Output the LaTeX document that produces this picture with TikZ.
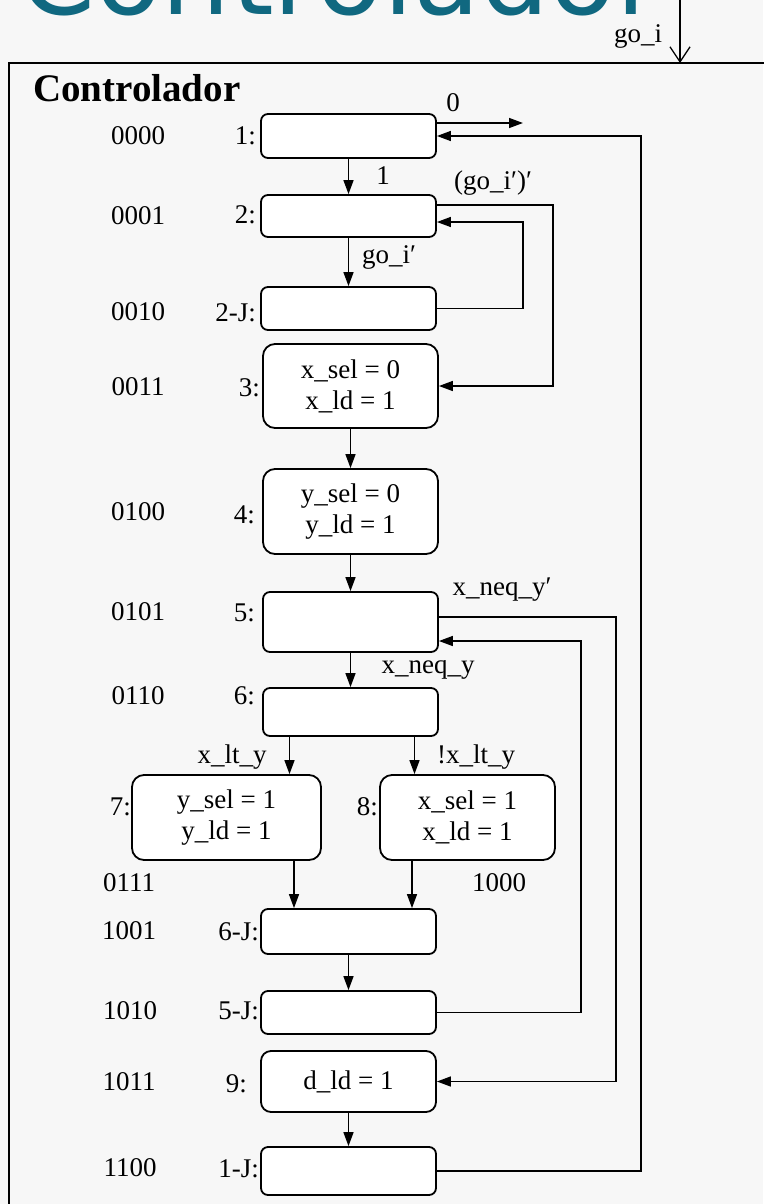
\documentclass[tikz,border=0pt]{standalone}
\usepackage{fontspec}
\setmainfont{Liberation Serif}
\newfontfamily\titlefont{DejaVu Sans}
\usetikzlibrary{arrows.meta, calc}
\definecolor{slideteal}{RGB}{16, 104, 128}
\definecolor{slidebg}{RGB}{247, 247, 247}
\newcommand{\statefont}{\fontsize{27}{31}\selectfont}

\begin{document}
\begin{tikzpicture}[x=1pt, y=-1pt,
    statebox/.style={draw, line width=1.8pt, fill=white, rounded corners=7pt,
        minimum width=175pt, inner sep=0pt, align=center, font=\statefont},
    tallbox/.style={statebox, rounded corners=12pt, minimum height=85pt},
    codelabel/.style={font=\statefont, inner sep=0pt},
    statelabel/.style={font=\statefont, inner sep=0pt, anchor=east},
    wire/.style={line width=1.5pt},
    flow/.style={wire, -{Triangle[length=14pt, width=10pt]}}]

    \fill[slidebg] (0,0) rectangle (763,1204);
    \useasboundingbox (0,0) rectangle (763,1204);

    \node[font=\titlefont\fontsize{109}{116}\selectfont, text=slideteal,
          anchor=base west, inner sep=0pt] (title) at (19,15) {Controlador};

    \draw[line width=2pt] (9,63) rectangle (775,1215);
    \node[font=\fontsize{39}{44}\selectfont\bfseries, anchor=west, inner sep=0pt]
        (heading) at (33,88) {Controlador};

    \coordinate (goin) at (680,-5);
    \coordinate (gotop) at (680,63);
    \draw[line width=1.3pt, -{Straight Barb[length=15pt, width=20pt]}] (goin) -- (gotop);
    \node[codelabel, anchor=base] (golabel) at (638,43) {go\_i};

    % states
    \node[statebox, minimum height=44pt] (s1) at (348.5,136) {};
    \node[statebox, minimum height=42pt] (s2) at (348.5,216) {};
    \node[statebox, minimum height=43pt] (s2j) at (348.5,308.5) {};
    \node[tallbox, minimum height=84pt] (s3) at (350.5,386) {x\_sel = 0\\x\_ld = 1};
    \node[tallbox] (s4) at (350.5,511.5) {y\_sel = 0\\y\_ld = 1};
    \node[statebox, minimum height=60pt] (s5) at (350.5,622) {};
    \node[statebox, minimum height=48pt] (s6) at (350.5,712) {};
    \node[tallbox, minimum width=189pt] (s7) at (226.5,817.5) {y\_sel = 1\\y\_ld = 1};
    \node[tallbox] (s8) at (467.5,817.5) {x\_sel = 1\\x\_ld = 1};
    \node[statebox, minimum height=45pt] (s6j) at (348.5,931.5) {};
    \node[statebox, minimum height=43pt] (s5j) at (348.5,1012.5) {};
    \node[statebox, minimum height=61pt, rounded corners=10pt] (s9) at (348.5,1081.5) {d\_ld = 1};
    \node[statebox, minimum height=48pt] (s1j) at (348.5,1171) {};

    \node[statelabel] (n1) at (256,136) {1:};
    \node[statelabel] (n2) at (256,215) {2:};
    \node[statelabel] (n2j) at (256,313) {2-J:};
    \node[statelabel] (n3) at (260,388) {3:};
    \node[statelabel] (n4) at (255,515) {4:};
    \node[statelabel] (n5) at (255,613) {5:};
    \node[statelabel] (n6) at (255,696) {6:};
    \node[statelabel] (n7) at (131,807) {7:};
    \node[statelabel] (n8) at (378,807) {8:};
    \node[statelabel] (n6j) at (259,932) {6-J:};
    \node[statelabel] (n5j) at (259,1011) {5-J:};
    \node[statelabel] (n9) at (247,1084) {9:};
    \node[statelabel] (n1j) at (259,1169) {1-J:};

    \node[codelabel] (c1) at (138,136) {0000};
    \node[codelabel] (c2) at (138,216) {0001};
    \node[codelabel] (c2j) at (138,312) {0010};
    \node[codelabel] (c3) at (138,387) {0011};
    \node[codelabel] (c4) at (138,512) {0100};
    \node[codelabel] (c5) at (138,612) {0101};
    \node[codelabel] (c6) at (138,696) {0110};
    \node[codelabel] (c7) at (129,883) {0111};
    \node[codelabel] (c8) at (499,883) {1000};
    \node[codelabel] (c6j) at (129,931) {1001};
    \node[codelabel] (c5j) at (130,1011) {1010};
    \node[codelabel] (c9) at (129,1082) {1011};
    \node[codelabel] (c1j) at (130,1168) {1100};

    % transitions
    \coordinate (exit0) at (523,123);
    \coordinate (back1) at (641,0);
    \coordinate (bus2) at (553,0);
    \coordinate (back2) at (523,0);
    \coordinate (bus5) at (616,0);
    \coordinate (back5) at (581,0);
    \coordinate (in2) at ([yshift=-6pt]s2.east);
    \coordinate (in5) at ([yshift=-19pt]s5.east);

    \draw[flow] ([yshift=13pt]s1.east) -- (exit0);
    \node[codelabel] (t0) at (453,103) {0};
    \draw[flow] (s1j.east) -| (back1 |- s1.east) -- (s1.east);

    \draw[flow] (s1) -- (s2);
    \node[codelabel] (t1) at (383,176) {1};
    \draw[flow] (s2) -- (s2j);
    \node[codelabel] (tgo) at (389,257) {go\_i′};
    \draw[flow] ([yshift=11pt]s2.east) -| (bus2 |- s3.east) -- (s3.east);
    \node[codelabel] (tgo2) at (493,183) {(go\_i′)′};
    \draw[flow] (s2j.east) -| (back2 |- in2) -- (in2);

    \draw[flow] (s3) -- (s4);
    \draw[flow] (s4) -- (s5);
    \draw[flow] (s5) -- (s6);
    \node[codelabel] (tneq) at (428,670) {x\_neq\_y};
    \draw[flow] ([yshift=5pt]s5.east) -| (bus5 |- s9.east) -- (s9.east);
    \node[codelabel] (tneq2) at (502,590) {x\_neq\_y′};
    \draw[flow] (s5j.east) -| (back5 |- in5) -- (in5);

    \draw[flow] ([xshift=-61pt]s6.south) -- ([xshift=-61pt]s6.south |- s7.north);
    \node[codelabel] (tlt) at (232,757) {x\_lt\_y};
    \draw[flow] ([xshift=64pt]s6.south) -- ([xshift=64pt]s6.south |- s8.north);
    \node[codelabel] (tnlt) at (476,757) {!x\_lt\_y};
    \draw[flow] ([xshift=67.5pt]s7.south) -- ([xshift=67.5pt]s7.south |- s6j.north);
    \draw[flow] ([xshift=-55.5pt]s8.south) -- ([xshift=-55.5pt]s8.south |- s6j.north);

    \draw[flow] (s6j) -- (s5j);
    \draw[flow] (s9) -- (s1j);
\end{tikzpicture}
\end{document}
